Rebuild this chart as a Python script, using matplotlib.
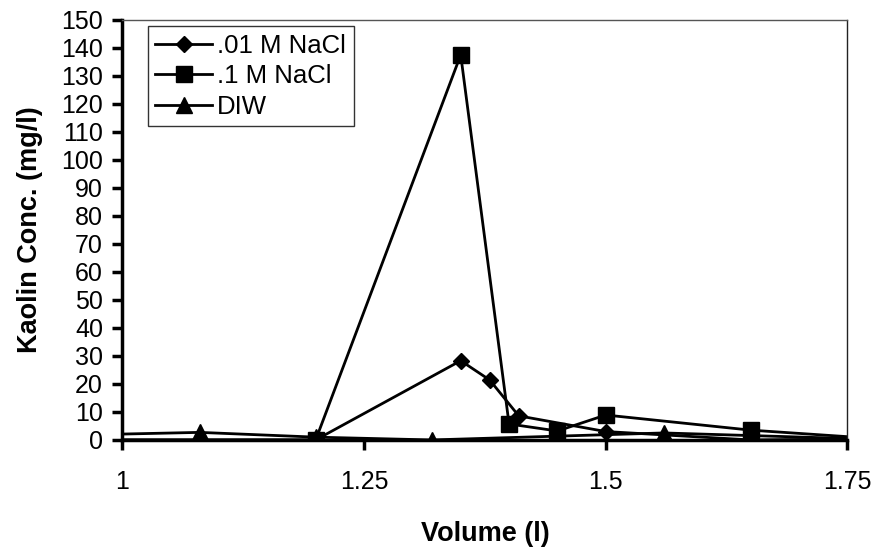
import matplotlib
matplotlib.use('Agg')
import matplotlib.pyplot as plt

plt.rcParams['font.family'] = ['Liberation Sans', 'DejaVu Sans']

# data
vol_001 = [0.92, 1.2, 1.35, 1.38, 1.41, 1.5, 1.65, 1.8]
conc_001 = [0, 0, 28.3, 21.4, 8.6, 3, 0, 0.5]

vol_01 = [0.92, 1.2, 1.35, 1.4, 1.45, 1.5, 1.65, 1.8]
conc_01 = [0, 0, 137.5, 5.7, 3.2, 8.9, 3.5, 0]

vol_diw = [0.92, 1.08, 1.2, 1.32, 1.56, 1.8]
conc_diw = [1.5, 2.7, 1, 0, 2.5, 0]

labels = ['.01 M NaCl', '.1 M NaCl', 'DIW']
xticks = [1, 1.25, 1.5, 1.75]
xtick_labels = ['1', '1.25', '1.5', '1.75']
yticks = list(range(0, 151, 10))

fig = plt.figure(figsize=(8.8, 5.52), dpi=100)
ax = fig.add_axes([0.139, 0.203, 0.824, 0.761])

ax.plot(vol_001, conc_001, color='black', lw=2, marker='D', ms=8.5, label=labels[0])
ax.plot(vol_01, conc_01, color='black', lw=2, marker='s', ms=11, label=labels[1])
ax.plot(vol_diw, conc_diw, color='black', lw=2, marker='^', ms=11, label=labels[2])

ax.set_xlim(1, 1.75)
ax.set_ylim(0, 150)
ax.set_xticks(xticks)
ax.set_xticklabels(xtick_labels)
ax.set_yticks(yticks)

ax.spines['left'].set_linewidth(2.5)
ax.spines['bottom'].set_linewidth(2.5)
ax.spines['top'].set_linewidth(1)
ax.spines['right'].set_linewidth(1)
ax.spines['top'].set_color('#555555')
ax.spines['right'].set_color('#222222')

ax.tick_params(axis='both', direction='out', length=7, width=2.5, labelsize=18)
ax.tick_params(axis='x', pad=15)
ax.tick_params(axis='y', pad=7)

ax.set_xlabel('Volume (l)', fontsize=19.5, fontweight='bold', labelpad=19)
ax.set_ylabel('Kaolin Conc. (mg/l)', fontsize=19.5, fontweight='bold', labelpad=13)

leg = ax.legend(loc='upper left', bbox_to_anchor=(0.035, 0.985), fontsize=18.5,
                handlelength=2.2, labelspacing=0.25, fancybox=False,
                borderpad=0.3, handletextpad=0.2, borderaxespad=0)
leg.get_frame().set_edgecolor('black')
leg.get_frame().set_linewidth(1)

plt.savefig('out.png', dpi=100)
